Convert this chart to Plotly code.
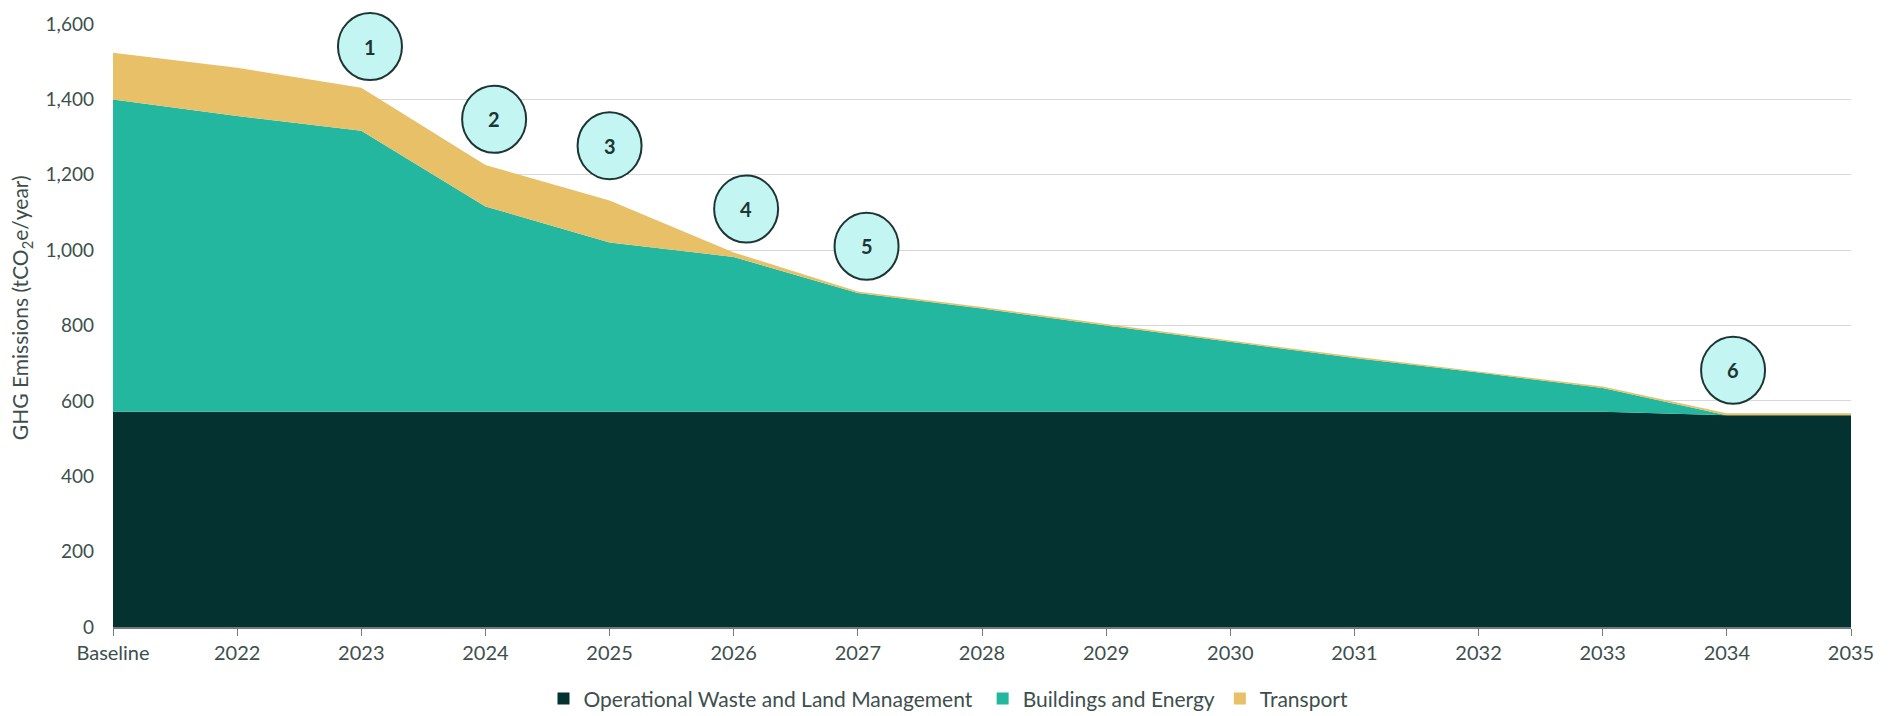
import plotly.graph_objects as go

# Emissions trajectory by source, tCO2e per year
categories = ["Baseline", "2022", "2023", "2024", "2025", "2026", "2027", "2028",
              "2029", "2030", "2031", "2032", "2033", "2034", "2035"]
waste = [571, 571, 571, 571, 571, 571, 571, 571, 571, 571, 571, 571, 571, 562, 562]
buildings = [829, 785, 746, 545, 449, 411, 315, 274, 229, 185, 143, 104, 63, 0, 0]
transport = [124, 128, 114, 110, 112, 12, 4, 4, 4, 4, 4, 4, 4, 5, 5]

series_names = ["Operational Waste and Land Management", "Buildings and Energy", "Transport"]
series_colors = ["#033230", "#23b7a0", "#e7c068"]
legend_padding = [1, 0, 0]  # extra non-breaking spaces after each legend label

# Numbered intervention callouts (category position, emissions level)
callout_labels = ["1", "2", "3", "4", "5", "6"]
callout_x = [2.07, 3.07, 4.0, 5.1, 6.07, 13.05]
callout_y = [1540, 1347, 1277, 1109, 1010, 681]

Y_MAX = 1600
x_idx = list(range(len(categories)))
TEXT = "#3d4f4d"

fig = go.Figure()
for name, vals, color in zip(series_names, [waste, buildings, transport], series_colors):
    fig.add_trace(go.Scatter(
        x=x_idx, y=vals, name=name, mode="lines", stackgroup="one",
        line=dict(width=0, color=color), fillcolor=color,
        showlegend=False, hoverinfo="x+y+name",
    ))

for name, color, pad in zip(series_names, series_colors, legend_padding):
    # square legend swatch
    fig.add_trace(go.Scatter(
        x=[None], y=[None], name=name + "\u00a0" * pad, mode="markers",
        marker=dict(symbol="square", size=11, color=color),
    ))

x_last = len(categories) - 1
for lab, cx, cy in zip(callout_labels, callout_x, callout_y):
    px_ = cx / x_last
    py_ = cy / Y_MAX
    fig.add_shape(
        type="circle", xref="paper", yref="paper",
        xsizemode="pixel", ysizemode="pixel",
        xanchor=px_, yanchor=py_,
        x0=-32, x1=32, y0=-33.5, y1=33.5,
        fillcolor="#c3f6f3", line=dict(color="#1d3533", width=2),
        layer="above",
    )
    fig.add_annotation(
        x=px_, y=py_, xref="paper", yref="paper", text=f"<b>{lab}</b>",
        xanchor="center", yanchor="middle",
        showarrow=False, font=dict(family="Lato", size=20, color="#1d3533"),
    )

# rotated y-axis title
fig.add_annotation(
    x=-0.0525, y=0.53, xref="paper", yref="paper",
    text="GHG Emissions (tCO<sub>2</sub>e/year)", textangle=-90,
    xanchor="center", yanchor="middle", showarrow=False,
    font=dict(family="Lato", size=21, color=TEXT),
)

fig.update_layout(
    width=1897, height=716,
    margin=dict(l=113, r=46, t=19, b=89),
    paper_bgcolor="white", plot_bgcolor="white",
    font=dict(family="Lato", size=19, color=TEXT),
    showlegend=True,
    legend=dict(
        orientation="h", xref="container", yref="container",
        x=0.5, xanchor="center", y=0.024, yanchor="middle",
        font=dict(size=21, color=TEXT), itemwidth=30,
        itemsizing="constant", traceorder="normal",
    ),
    xaxis=dict(
        range=[0, x_last], tickmode="array", tickvals=x_idx, ticktext=categories,
        showgrid=False, zeroline=False,
        showline=True, linecolor="#6f7d7c", linewidth=1.5,
        ticks="outside", ticklen=7, tickcolor="#6f7d7c",
        tickfont=dict(size=20, color=TEXT),
    ),
    yaxis=dict(
        range=[0, Y_MAX], dtick=200, tickformat=",",
        showgrid=True, gridcolor="#d9d9d9", gridwidth=1,
        zeroline=False, showline=False, ticks="",
        ticklabelstandoff=18,
        tickfont=dict(size=19, color=TEXT),
    ),
)

fig.write_html("out.html")
